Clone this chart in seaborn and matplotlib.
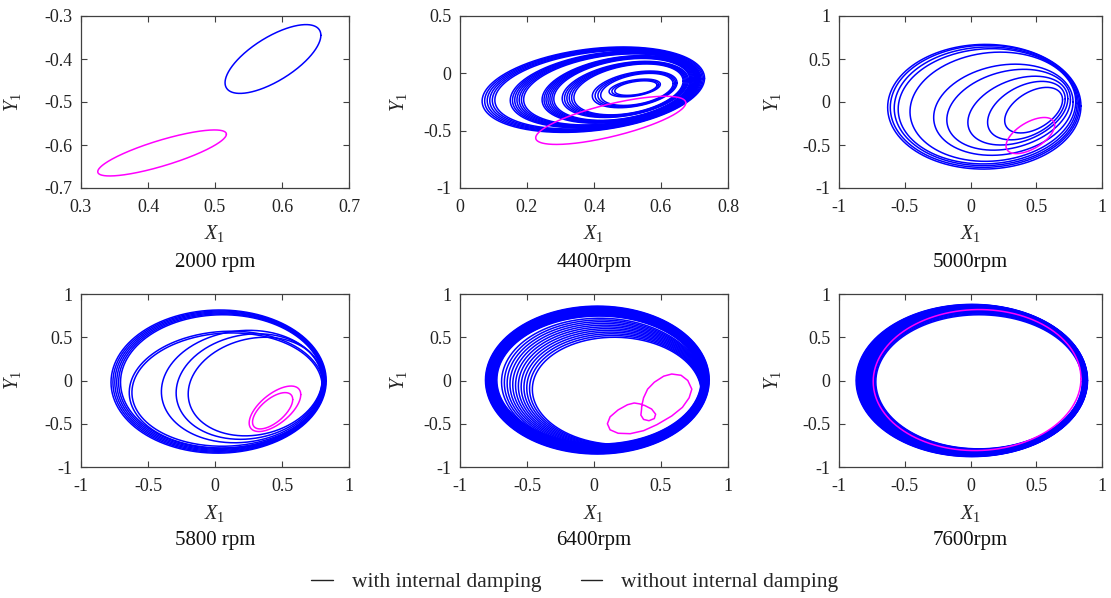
import numpy as np
import pandas as pd
import matplotlib
matplotlib.use("Agg")
import matplotlib.pyplot as plt
import seaborn as sns
from matplotlib.lines import Line2D
from matplotlib.ticker import FixedLocator, FuncFormatter

# ---------------- data ----------------
TITLES = ["2000 rpm", "4400rpm", "5000rpm", "5800 rpm", "6400rpm", "7600rpm"]
XLIMS = [(0.3, 0.7), (0, 0.8), (-1, 1), (-1, 1), (-1, 1), (-1, 1)]
YLIMS = [(-0.7, -0.3), (-1, 0.5), (-1, 1), (-1, 1), (-1, 1), (-1, 1)]
XTICKS = [[0.3, 0.4, 0.5, 0.6, 0.7], [0, 0.2, 0.4, 0.6, 0.8],
          [-1, -0.5, 0, 0.5, 1], [-1, -0.5, 0, 0.5, 1],
          [-1, -0.5, 0, 0.5, 1], [-1, -0.5, 0, 0.5, 1]]
YTICKS = [[-0.7, -0.6, -0.5, -0.4, -0.3], [-1, -0.5, 0, 0.5],
          [-1, -0.5, 0, 0.5, 1], [-1, -0.5, 0, 0.5, 1],
          [-1, -0.5, 0, 0.5, 1], [-1, -0.5, 0, 0.5, 1]]
SERIES = ["with internal damping", "without internal damping"]

# single orbit loops: (x_min, x_max, y_min, y_max, phase between x and y)
BLUE_2000 = [(0.515, 0.658, -0.480, -0.320, 0.81)]
MAG_2000 = [(0.325, 0.517, -0.672, -0.565, 0.62)]

# orbit bands: outer loop extents -> inner loop extents, tilt, number of turns
# (x_min0, x_min1, x_max0, x_max1, y_min0, y_min1, y_max0, y_max1, phase, turns)
BLUE_4400 = [(0.066, 0.104, 0.730, 0.712, -0.515, -0.485, 0.230, 0.200, 1.30, 6),
             (0.150, 0.190, 0.716, 0.702, -0.475, -0.450, 0.195, 0.170, 1.28, 7),
             (0.245, 0.280, 0.702, 0.686, -0.435, -0.410, 0.155, 0.130, 1.26, 7),
             (0.305, 0.340, 0.682, 0.666, -0.385, -0.362, 0.105, 0.082, 1.24, 6),
             (0.395, 0.420, 0.648, 0.636, -0.300, -0.280, 0.020, 0.000, 1.20, 4),
             (0.445, 0.462, 0.598, 0.588, -0.205, -0.192, -0.050, -0.065, 1.15, 3)]
MAG_4400 = [(0.226, 0.674, -0.620, -0.200, 0.76)]

BLUE_5000 = [(-0.63, 0.84, -0.78, 0.67, 1.56), (-0.61, 0.83, -0.76, 0.66, 1.55),
             (-0.58, 0.82, -0.74, 0.64, 1.54), (-0.55, 0.81, -0.72, 0.62, 1.52),
             (-0.46, 0.80, -0.69, 0.58, 1.48), (-0.28, 0.78, -0.62, 0.44, 1.40),
             (-0.18, 0.76, -0.56, 0.38, 1.32), (-0.02, 0.74, -0.50, 0.30, 1.22),
             (0.13, 0.72, -0.44, 0.24, 1.16), (0.26, 0.70, -0.36, 0.17, 1.10)]
MAG_5000 = [(0.270, 0.640, -0.600, -0.180, 0.96)]

BLUE_5800_BAND = [(-0.776, -0.705, 0.830, 0.805, -0.840, -0.785, 0.815, 0.760, 1.56, 6)]
BLUE_5800 = [(-0.64, 0.81, -0.78, 0.57, 1.52), (-0.62, 0.80, -0.76, 0.55, 1.52),
             (-0.40, 0.80, -0.72, 0.58, 1.48), (-0.29, 0.80, -0.68, 0.54, 1.45),
             (-0.20, 0.80, -0.64, 0.50, 1.42)]
MAG_5800 = [(0.255, 0.640, -0.590, -0.064, 0.90), (0.280, 0.580, -0.560, -0.140, 0.90)]

BLUE_6400_BAND = [(-0.810, -0.725, 0.860, 0.800, -0.850, -0.735, 0.860, 0.745, 1.57, 20),
                  (-0.690, -0.460, 0.820, 0.800, -0.800, -0.740, 0.720, 0.500, 1.60, 12)]
# magenta orbit path at 6400 rpm
MAG_6400_X = [0.356, 0.37, 0.40, 0.45, 0.52, 0.58, 0.65, 0.70, 0.73, 0.71, 0.66, 0.58,
              0.47, 0.37, 0.27, 0.18, 0.12, 0.10, 0.12, 0.18, 0.25, 0.30, 0.34, 0.38,
              0.43, 0.46, 0.45, 0.41, 0.37, 0.35, 0.355, 0.356]
MAG_6400_Y = [-0.295, -0.20, -0.10, -0.02, 0.05, 0.075, 0.06, 0.00, -0.10, -0.20, -0.31, -0.41,
              -0.51, -0.58, -0.615, -0.61, -0.57, -0.50, -0.42, -0.34, -0.28, -0.26, -0.27, -0.29,
              -0.33, -0.39, -0.44, -0.465, -0.45, -0.40, -0.33, -0.295]

BLUE_7600_BAND = [(-0.870, -0.740, 0.890, 0.860, -0.880, -0.800, 0.880, 0.800, 1.57, 30),
                  (-0.740, -0.720, 0.860, 0.850, -0.800, -0.790, 0.790, 0.760, 1.57, 4)]
MAG_7600 = [(-0.740, 0.840, -0.810, 0.820, 1.55)]

# ---------------- helpers ----------------
T = np.linspace(0, 2 * np.pi, 361)


def loop_xy(L, R, B, Tp, phi):
    x = (L + R) / 2 + (R - L) / 2 * np.cos(T)
    y = (B + Tp) / 2 + (Tp - B) / 2 * np.cos(T - phi)
    return x, y


def frames():
    out = []
    specs = [
        (BLUE_2000, [], MAG_2000, None),
        ([], BLUE_4400, MAG_4400, None),
        (BLUE_5000, [], MAG_5000, None),
        (BLUE_5800, BLUE_5800_BAND, MAG_5800, None),
        ([], BLUE_6400_BAND, [], (MAG_6400_X, MAG_6400_Y)),
        ([], BLUE_7600_BAND, MAG_7600, None),
    ]
    for loops, bands, mloops, mpath in specs:
        rows = []
        uid = 0
        for (L, R, B, Tp, phi) in loops:
            x, y = loop_xy(L, R, B, Tp, phi)
            rows.append(pd.DataFrame({"x": x, "y": y, "u": uid, "s": SERIES[0]}))
            uid += 1
        for (L0, L1, R0, R1, B0, B1, T0, T1, phi, n) in bands:
            for k in range(n):
                f = k / max(n - 1, 1)
                x, y = loop_xy(L0 + (L1 - L0) * f, R0 + (R1 - R0) * f,
                               B0 + (B1 - B0) * f, T0 + (T1 - T0) * f, phi)
                rows.append(pd.DataFrame({"x": x, "y": y, "u": uid, "s": SERIES[0]}))
                uid += 1
        for (L, R, B, Tp, phi) in mloops:
            x, y = loop_xy(L, R, B, Tp, phi)
            rows.append(pd.DataFrame({"x": x, "y": y, "u": uid, "s": SERIES[1]}))
            uid += 1
        if mpath is not None:
            rows.append(pd.DataFrame({"x": mpath[0], "y": mpath[1], "u": uid, "s": SERIES[1]}))
        out.append(pd.concat(rows, ignore_index=True))
    return out


# ---------------- style ----------------
sns.set_style("ticks")
plt.rcParams.update({
    "font.family": ["Liberation Serif", "DejaVu Serif"],
    "mathtext.fontset": "custom",
    "mathtext.rm": "Liberation Serif",
    "mathtext.it": "Liberation Serif:italic",
    "axes.unicode_minus": False,
    "axes.edgecolor": "#404040",
    "axes.linewidth": 0.9,
    "xtick.color": "#404040",
    "ytick.color": "#404040",
    "xtick.labelcolor": "#222222",
    "ytick.labelcolor": "#222222",
})

fig = plt.figure(figsize=(11.11, 5.98), dpi=100)
W, H = 1111, 598
col_px = [(81, 268), (460, 268), (839, 263)]
row_px = [(16, 172), (294, 173)]
ylab_off = [-0.254, -0.231, -0.251]
palette = {SERIES[0]: "#0000FF", SERIES[1]: "#FF00FF"}

data = frames()
fmt = FuncFormatter(lambda v, p: "%g" % round(v, 3))

for i in range(6):
    r, c = divmod(i, 3)
    left, w = col_px[c]
    top, h = row_px[r]
    ax = fig.add_axes([left / W, 1 - (top + h) / H, w / W, h / H])
    df = data[i]
    sns.lineplot(data=df, x="x", y="y", hue="s", units="u", estimator=None,
                 sort=False, palette=palette, linewidth=1.1, legend=False, ax=ax)
    ax.set_xlim(*XLIMS[i])
    ax.set_ylim(*YLIMS[i])
    ax.xaxis.set_major_locator(FixedLocator(XTICKS[i]))
    ax.yaxis.set_major_locator(FixedLocator(YTICKS[i]))
    ax.xaxis.set_major_formatter(fmt)
    ax.yaxis.set_major_formatter(fmt)
    ax.tick_params(direction="in", length=4, width=0.8, top=True, right=True,
                   labelsize=13)
    ax.tick_params(axis="x", pad=8)
    ax.tick_params(axis="y", pad=6)
    ax.set_xlabel("$X_1$", fontsize=14.5)
    ax.set_ylabel("$Y_1$", fontsize=14.5)
    ax.xaxis.set_label_coords(0.5, -46 / h)
    ax.xaxis.label.set_va("center")
    ax.yaxis.set_label_coords(ylab_off[c], 0.5)
    ax.yaxis.label.set_va("center")
    ax.text(0.5, -74 / h, TITLES[i], transform=ax.transAxes, ha="center",
            va="center", fontsize=15, color="#111111")

handles = [Line2D([], [], color="#222222", lw=1.0) for _ in SERIES]
fig.legend(handles, SERIES, loc="center", bbox_to_anchor=(0.5175, 1 - 582 / H),
           ncol=2, frameon=False, handlelength=1.0, handletextpad=0.9,
           columnspacing=1.8, fontsize=15.5)

fig.savefig("out.png", dpi=100)
